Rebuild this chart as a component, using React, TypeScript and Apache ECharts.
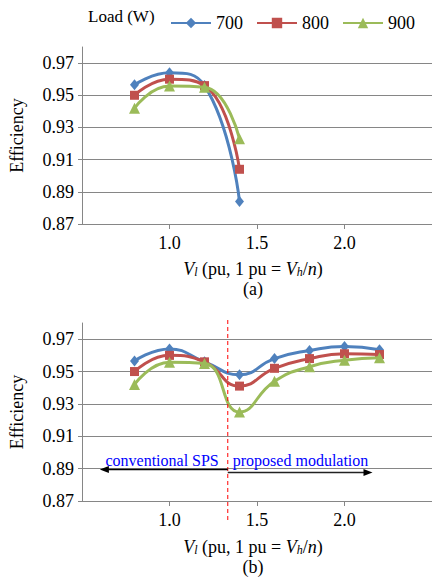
import { useEffect, useRef } from 'react';
import * as echarts from 'echarts';

const loadNames = ['700', '800', '900'];
const xTop = [0.8, 1.0, 1.2, 1.4];
const xBottom = [0.8, 1.0, 1.2, 1.4, 1.6, 1.8, 2.0, 2.2];
const top700 = [0.9565, 0.964, 0.956, 0.884];
const top800 = [0.95, 0.96, 0.956, 0.904];
const top900 = [0.942, 0.9557, 0.955, 0.923];
const bottom700 = [0.9565, 0.964, 0.956, 0.948, 0.958, 0.963, 0.9655, 0.9635];
const bottom800 = [0.95, 0.96, 0.956, 0.941, 0.952, 0.958, 0.961, 0.9605];
const bottom900 = [0.942, 0.9557, 0.955, 0.925, 0.944, 0.953, 0.957, 0.9585];
const yTicks = { min: 0.87, max: 0.98, interval: 0.02 };
const xTicks = { min: 0.5, max: 2.5, interval: 0.5 };
const boundaryX = 1.333;
const leftArrowEnd = 0.602;
const rightArrowEnd = 2.16;
const leftArrowY = 0.8895;
const rightArrowY = 0.8876;

const FONT = 'Liberation Serif';
const COLORS = ['#4F81BD', '#C0504D', '#9BBB59'];
const SYMBOLS = ['diamond', 'rect', 'triangle'];
const SYMBOL_SIZES: any[] = [[9, 11], 9, 11];
const GRAY = '#868686';

function makeSeries(xs: number[], ys: number[], idx: number, axisIdx: number) {
  return {
    name: loadNames[idx],
    type: 'line',
    xAxisIndex: axisIdx,
    yAxisIndex: axisIdx,
    data: xs.map((x, i) => [x, ys[i]]),
    smooth: 0.5,
    symbol: SYMBOLS[idx],
    symbolSize: SYMBOL_SIZES[idx],
    lineStyle: { color: COLORS[idx], width: 3 },
    itemStyle: { color: COLORS[idx] },
    z: 3 + idx,
  };
}

function xAxis(gridIndex: number) {
  return {
    type: 'value',
    gridIndex,
    min: xTicks.min,
    max: xTicks.max,
    interval: xTicks.interval,
    axisLine: { show: true, lineStyle: { color: GRAY, width: 1 } },
    axisTick: { show: true, length: 5, lineStyle: { color: GRAY } },
    splitLine: { show: false },
    axisLabel: {
      showMinLabel: false,
      showMaxLabel: false,
      formatter: (v: number) => v.toFixed(1),
      fontSize: 18,
      fontFamily: FONT,
      color: '#000',
      margin: 10,
    },
  };
}

function yAxis(gridIndex: number) {
  return {
    type: 'value',
    gridIndex,
    min: yTicks.min,
    max: yTicks.max,
    interval: yTicks.interval,
    axisLine: { show: true, lineStyle: { color: GRAY, width: 1 } },
    axisTick: { show: true, length: 4, lineStyle: { color: GRAY } },
    splitLine: { show: true, showMaxLine: false, lineStyle: { color: GRAY, width: 1 } },
    axisLabel: {
      showMaxLabel: false,
      formatter: (v: number) => v.toFixed(2),
      fontSize: 18,
      fontFamily: FONT,
      color: '#000',
      margin: 8,
    },
    name: 'Efficiency',
    nameLocation: 'middle',
    nameGap: 56,
    nameTextStyle: { fontSize: 18, fontFamily: FONT, color: '#000' },
  };
}

function titleText(y: number, x: number) {
  return {
    type: 'text',
    x,
    y,
    style: {
      text: '{i|V}{s|l} (pu, 1 pu = {i|V}{s|h}/{i|n})',
      fontSize: 18,
      fontFamily: FONT,
      fill: '#000',
      lineHeight: 18,
      align: 'center',
      verticalAlign: 'middle',
      rich: {
        i: { fontStyle: 'italic', fontSize: 18, fontFamily: FONT, lineHeight: 18, fill: '#000' },
        s: { fontStyle: 'italic', fontSize: 12, fontFamily: FONT, lineHeight: 10, verticalAlign: 'bottom', fill: '#000' },
      },
    },
  };
}

export default function App() {
  const ref = useRef<HTMLDivElement>(null);
  useEffect(() => {
    if (!ref.current) return;
    const chart = echarts.init(ref.current, undefined, { renderer: 'svg' });
    const option: any = {
      animation: false,
      backgroundColor: '#fff',
      textStyle: { fontFamily: FONT },
      legend: {
        data: loadNames,
        left: 165,
        top: 9,
        itemWidth: 40,
        itemHeight: 13,
        itemGap: 13,
        textStyle: { fontSize: 18, fontFamily: FONT, color: '#000' },
      },
      grid: [
        { left: 79, right: 0, top: 47, height: 177 },
        { left: 79, right: 0, top: 323, height: 178 },
      ],
      xAxis: [xAxis(0), xAxis(1)],
      yAxis: [yAxis(0), yAxis(1)],
      series: [
        makeSeries(xTop, top700, 0, 0),
        makeSeries(xTop, top800, 1, 0),
        makeSeries(xTop, top900, 2, 0),
        makeSeries(xBottom, bottom700, 0, 1),
        makeSeries(xBottom, bottom800, 1, 1),
        makeSeries(xBottom, bottom900, 2, 1),
      ],
    };
    chart.setOption(option);

    const px = (x: number, y: number) => chart.convertToPixel({ gridIndex: 1 } as any, [x, y]) as number[];
    const top = px(boundaryX, yTicks.max);
    const bot = px(boundaryX, yTicks.min);
    const la = px(leftArrowEnd, leftArrowY);
    const ra = px(rightArrowEnd, rightArrowY);
    const dashX = top[0];
    const head = 9;
    const hw = 3.5;

    chart.setOption({
      graphic: [
        {
          type: 'text',
          x: 88,
          y: 16,
          style: { text: 'Load (W)', fontSize: 17, fontFamily: FONT, fill: '#000', verticalAlign: 'middle' },
        },
        titleText(269, 253),
        { type: 'text', x: 253, y: 289, style: { text: '(a)', fontSize: 18, fontFamily: FONT, fill: '#000', align: 'center', verticalAlign: 'middle' } },
        titleText(547, 253),
        { type: 'text', x: 253, y: 567, style: { text: '(b)', fontSize: 18, fontFamily: FONT, fill: '#000', align: 'center', verticalAlign: 'middle' } },
        {
          type: 'line',
          shape: { x1: dashX, y1: top[1] - 3, x2: dashX, y2: bot[1] + 21 },
          style: { stroke: '#FF0000', lineWidth: 1, lineDash: [4, 3] },
          z: 10,
        },
        {
          type: 'line',
          shape: { x1: dashX, y1: la[1], x2: la[0] + head - 1, y2: la[1] },
          style: { stroke: '#000', lineWidth: 1.5 },
          z: 10,
        },
        {
          type: 'polygon',
          shape: { points: [[la[0], la[1]], [la[0] + head, la[1] - hw], [la[0] + head, la[1] + hw]] },
          style: { fill: '#000' },
          z: 10,
        },
        {
          type: 'line',
          shape: { x1: dashX, y1: ra[1], x2: ra[0] - head + 1, y2: ra[1] },
          style: { stroke: '#222', lineWidth: 1.5 },
          z: 10,
        },
        {
          type: 'polygon',
          shape: { points: [[ra[0], ra[1]], [ra[0] - head, ra[1] - hw], [ra[0] - head, ra[1] + hw]] },
          style: { fill: '#000' },
          z: 10,
        },
        {
          type: 'text',
          x: dashX - 9,
          y: la[1] - 9,
          style: { text: 'conventional SPS', fontSize: 16, fontFamily: FONT, fill: '#0000FF', align: 'right', verticalAlign: 'middle' },
          z: 10,
        },
        {
          type: 'text',
          x: dashX + 5,
          y: ra[1] - 12,
          style: { text: 'proposed modulation', fontSize: 16, fontFamily: FONT, fill: '#0000FF', align: 'left', verticalAlign: 'middle' },
          z: 10,
        },
      ],
    });
    return () => chart.dispose();
  }, []);
  return <div ref={ref} style={{ position: 'fixed', left: 0, top: 0, width: 432, height: 586 }} />;
}
